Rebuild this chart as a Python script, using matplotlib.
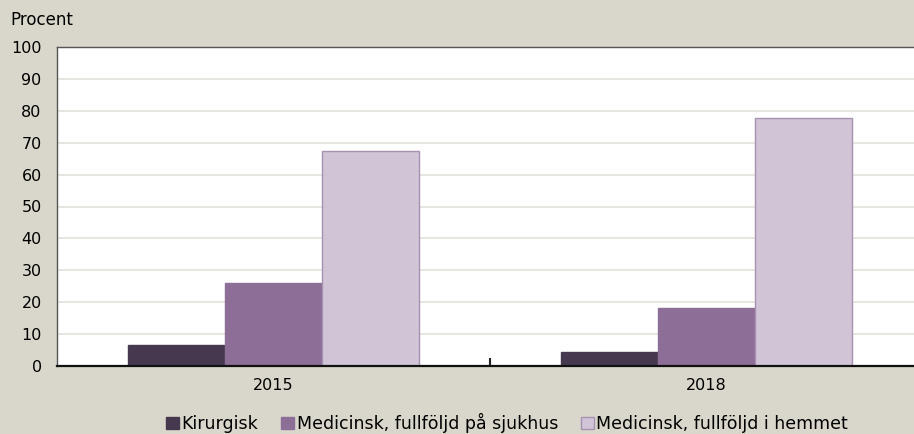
import numpy as np
import matplotlib
matplotlib.use("Agg")
import matplotlib.pyplot as plt
from matplotlib.patches import Patch

# Data
years = ["2015", "2018"]
series_names = ["Kirurgisk", "Medicinsk, fullföljd på sjukhus", "Medicinsk, fullföljd i hemmet"]
kirurgisk = [6.6, 4.3]
sjukhus = [26.0, 18.1]
hemmet = [67.3, 77.6]
y_ticks = list(range(0, 101, 10))

colors = ["#46394f", "#8c6e96", "#d1c4d7"]
edges = ["#46394f", "#8c6e96", "#a692b0"]
bg = "#d9d7cb"

plt.rcParams['font.family'] = ['DejaVu Sans']

fig = plt.figure(figsize=(9.14, 4.34), dpi=100)
fig.patch.set_facecolor(bg)

# axes extends slightly past the right edge as in the reference
W, H = 914, 434
left, right, top, bottom = 57, 923, 47, 366
ax = fig.add_axes([left / W, 1 - bottom / H, (right - left) / W, (bottom - top) / H])
ax.set_facecolor("white")

x = np.arange(len(years))
bw = 0.224
for i, vals in enumerate([kirurgisk, sjukhus, hemmet]):
    ax.bar(x + (i - 1) * bw, vals, width=bw, color=colors[i], edgecolor=edges[i],
           linewidth=1.0, zorder=3)

ax.set_xlim(-0.5, 1.5)
ax.set_ylim(0, 100)
ax.set_yticks(y_ticks)
ax.set_yticklabels([str(t) for t in y_ticks], fontsize=11.5)
ax.tick_params(axis='y', length=0, pad=11)
ax.set_xticks(x)
ax.set_xticklabels(years, fontsize=11.5)
ax.tick_params(axis='x', length=0, pad=9)
# small category separator tick inside
ax.set_xticks([0.5], minor=True)
ax.tick_params(axis='x', which='minor', direction='in', length=6, width=1.5, color="#222222")

ax.grid(axis='y', color="#e3e0d9", linewidth=1.2, zorder=0)
for side in ['left', 'top', 'right']:
    ax.spines[side].set_color("#555555")
    ax.spines[side].set_linewidth(1.0)
ax.spines['bottom'].set_color("#111111")
ax.spines['bottom'].set_linewidth(1.6)
ax.spines['bottom'].set_zorder(5)

fig.text(10 / W, 1 - 20 / H, "Procent", fontsize=12, va='center', ha='left')

handles = [Patch(facecolor=colors[i], edgecolor=edges[i] if i == 2 else colors[i]) for i in range(3)]
fig.legend(handles, series_names, loc='center', bbox_to_anchor=(507 / W, 1 - 423 / H),
           ncol=3, frameon=False, fontsize=12.5, handlelength=0.75, handleheight=0.75,
           handletextpad=0.15, columnspacing=1.3, borderpad=0)

fig.savefig("out.png", dpi=100, facecolor=bg)
